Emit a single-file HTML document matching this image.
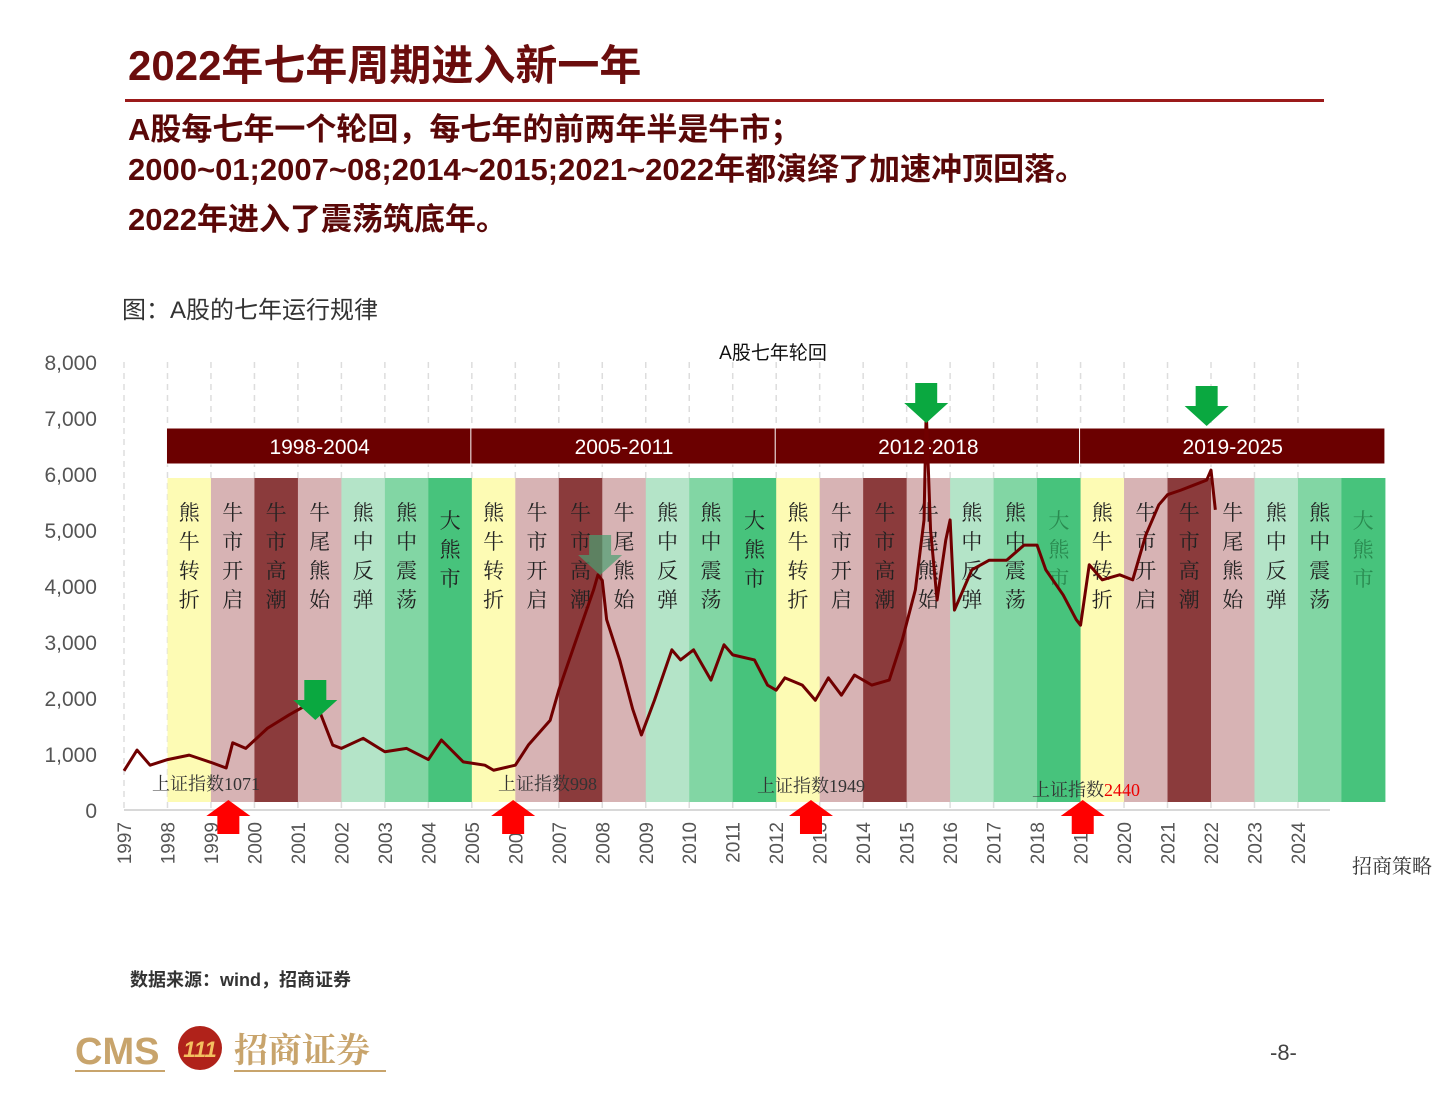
<!DOCTYPE html>
<html><head><meta charset="utf-8">
<style>
body{margin:0;background:#fff;}
svg text{font-family:"Liberation Sans","Noto Sans CJK SC",sans-serif;}
.serif{font-family:"Liberation Serif","Noto Serif CJK SC",serif !important;}
</style></head>
<body>
<svg id="pg" width="1448" height="1092" viewBox="0 0 1448 1092" xmlns="http://www.w3.org/2000/svg">
<text x="128" y="80" font-size="42" font-weight="bold" fill="#6b0d0d">2022年七年周期进入新一年</text>
<rect x="125" y="99" width="1199" height="3" fill="#9b1a1a"/>
<g font-size="31" font-weight="bold" fill="#5a0808">
<text x="128" y="140">A股每七年一个轮回，每七年的前两年半是牛市；</text>
<text x="128" y="180">2000~01;2007~08;2014~2015;2021~2022年都演绎了加速冲顶回落。</text>
<text x="128" y="230">2022年进入了震荡筑底年。</text>
</g>
<text x="122" y="318" font-size="24" fill="#333">图：A股的七年运行规律</text>
<text x="773" y="359" font-size="19" fill="#111" text-anchor="middle">A股七年轮回</text>
<g id="chart"></g>
<text x="1352" y="873" font-size="20" fill="#333" class="serif">招商策略</text>
<text x="130" y="986" font-size="18" font-weight="bold" fill="#333">数据来源：wind，招商证券</text>
<g>
<text x="75" y="1064" font-size="38" font-weight="bold" fill="#c8a46c">CMS</text>
<rect x="75" y="1070" width="90" height="2" fill="#c8a46c"/>
<circle cx="200" cy="1048" r="22" fill="#b0221a"/>
<text x="200" y="1057" font-size="22" font-weight="bold" fill="#f4c060" text-anchor="middle" font-style="italic">111</text>
<text x="234" y="1062" font-size="34" font-weight="bold" fill="#c8a46c" class="serif">招商证券</text>
<rect x="234" y="1070" width="152" height="2" fill="#c8a46c"/>
</g>
<text x="1270" y="1060" font-size="22" fill="#444">-8-</text>
</svg>
<script>
const yearTicks=[1997,1998,1999,2000,2001,2002,2003,2004,2005,2006,2007,2008,2009,2010,2011,2012,2013,2014,2015,2016,2017,2018,2019,2020,2021,2022,2023,2024];
const yTicks=[0,1000,2000,3000,4000,5000,6000,7000,8000];
const periods=["1998-2004","2005-2011","2012-2018","2019-2025"];
const phaseNames=["熊牛转折","牛市开启","牛市高潮","牛尾熊始","熊中反弹","熊中震荡","大熊市"];
const phaseColors=["#fdfbb4","#d7b3b4","#8b3b3c","#d7b3b4","#b4e4c8","#82d6a4","#47c37c"];
const dates=[1997.0,1997.3,1997.6,1998.0,1998.5,1999.0,1999.35,1999.5,1999.8,2000.3,2000.8,2001.4,2001.8,2002.0,2002.5,2003.0,2003.5,2004.0,2004.3,2004.8,2005.3,2005.5,2006.0,2006.3,2006.8,2007.0,2007.4,2007.8,2007.9,2008.0,2008.1,2008.4,2008.7,2008.9,2009.2,2009.6,2009.8,2010.1,2010.5,2010.8,2011.0,2011.5,2011.8,2012.0,2012.2,2012.6,2012.9,2013.2,2013.5,2013.8,2014.2,2014.6,2014.9,2015.2,2015.4,2015.45,2015.55,2015.7,2015.9,2016.0,2016.1,2016.5,2016.9,2017.3,2017.7,2018.0,2018.2,2018.6,2018.9,2019.0,2019.2,2019.5,2019.9,2020.2,2020.5,2020.8,2021.0,2021.3,2021.6,2021.9,2022.0,2022.1];
const values=[700,1070,800,900,980,850,750,1200,1100,1460,1700,1960,1160,1100,1280,1040,1100,900,1250,860,800,710,800,1160,1600,2140,3040,3930,4200,4100,3400,2680,1800,1340,1960,2860,2680,2860,2320,2950,2770,2680,2230,2140,2360,2230,1960,2360,2050,2410,2230,2320,3040,3930,5180,7140,5000,3750,4820,5180,3570,4290,4460,4460,4730,4730,4290,3840,3400,3300,4380,4110,4200,4110,4910,5450,5630,5710,5800,5890,6070,5360];
const lows=[{yr:1999.4,label:"上证指数",num:"1071",red:false,tx:152,ty:790},{yr:2005.95,label:"上证指数",num:"998",red:false,tx:498,ty:790},{yr:2012.8,label:"上证指数",num:"1949",red:false,tx:757,ty:792},{yr:2019.05,label:"上证指数",num:"2440",red:true,tx:1032,ty:796}];
const tops=[2001.4,2007.95,2015.45,2021.9];

const NS="http://www.w3.org/2000/svg";
const g=document.getElementById('chart');
const X=yr=>124+(yr-1997)*43.48;
const Y=v=>810-v*0.056;
function el(t,a,p){const e=document.createElementNS(NS,t);for(const k in a)e.setAttribute(k,a[k]);(p||g).appendChild(e);return e;}

// y ticks
yTicks.forEach(v=>{const t=el('text',{x:97,y:Y(v)+8,'font-size':21,fill:'#555','text-anchor':'end'});t.textContent=v.toLocaleString('en-US');

});
// grid (behind bands)
yearTicks.forEach(yr=>{const l=el('line',{x1:X(yr),x2:X(yr),y1:362,y2:810,stroke:'#ddd','stroke-dasharray':'6 5','stroke-width':1.5});


const t=el('text',{x:0,y:0,'font-size':19,fill:'#555','text-anchor':'end',transform:`translate(${X(yr)+7},822) rotate(-90)`});t.textContent=yr;

});
// phase bands
periods.forEach((p,pi)=>{phaseNames.forEach((n,i)=>{const yr=1998+pi*7+i;
const r=el('rect',{x:X(yr),y:478,width:X(yr+1)-X(yr)+0.5,height:324,fill:phaseColors[i]});


const cx=(X(yr)+X(yr+1))/2;const off=(i===6)?8:0;
[...n].forEach((ch,k)=>{const t=el('text',{x:cx,y:520+off+k*29,'font-size':21,fill:(i===6&&pi>=2)?'#2a8a50':'#222','text-anchor':'middle',class:'serif'});t.textContent=ch;

});});
const h=el('rect',{x:X(1998+pi*7)-1,y:428,width:X(2005)-X(1998)+1,height:36,fill:'#6b0000',stroke:'#fff','stroke-width':1});


const ht=el('text',{x:(X(1998+pi*7)+X(2005+pi*7))/2,y:454,'font-size':21,fill:'#fff','text-anchor':'middle'});ht.textContent=p;

});
const ax=el('line',{x1:124,x2:1330,y1:810,y2:810,stroke:'#ccc','stroke-width':1.5});


// series
const pl=el('polyline',{points:dates.map((d,i)=>X(d)+','+Y(values[i])).join(' '),fill:'none',stroke:'#700000','stroke-width':3,'stroke-linejoin':'round'});


// lows
lows.forEach(o=>{const t=el('text',{x:o.tx,y:o.ty,'font-size':18,fill:'#333',class:'serif'});t.textContent=o.label;


const s=el('tspan',{fill:o.red?'#e00':'#333'},t);s.textContent=o.num;
const x=X(o.yr);const a=el('polygon',{points:`${x},800 ${x+22},816 ${x+11},816 ${x+11},834 ${x-11},834 ${x-11},816 ${x-22},816`,fill:'#f00'});

});
// tops
tops.forEach((yr,i)=>{const x=X(yr);const y0=[680,535,383,386][i];
const a=el('polygon',{points:`${x-11},${y0} ${x+11},${y0} ${x+11},${y0+20} ${x+22},${y0+20} ${x},${y0+40} ${x-22},${y0+20} ${x-11},${y0+20}`,fill:i===1?'#4aa070':'#0aa840','opacity':i===1?0.7:1});

});
</script>
</body></html>
